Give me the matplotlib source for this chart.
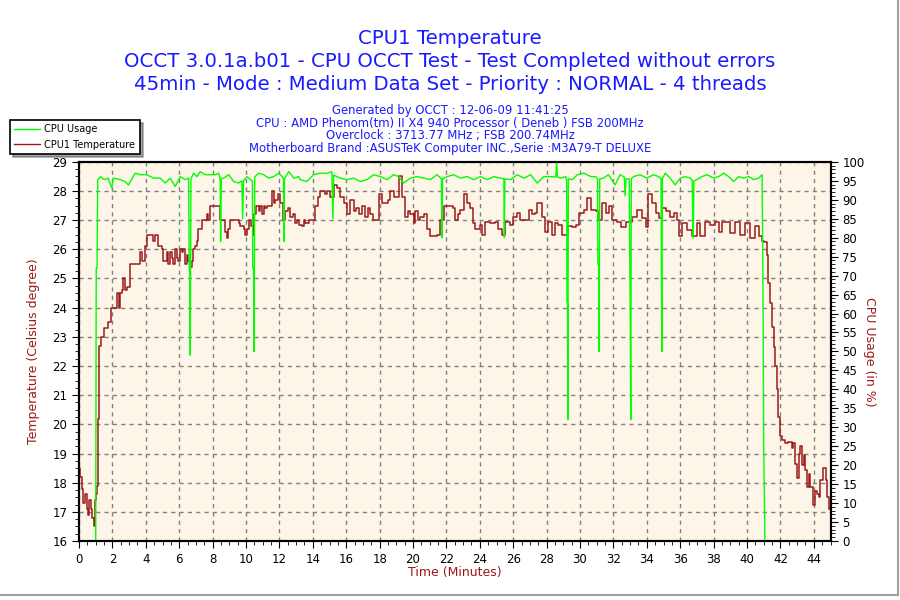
import matplotlib.pyplot as plt
from matplotlib.lines import Line2D
from matplotlib.ticker import MultipleLocator

# CPU1 temperature (minutes, degrees C)
temp_time = [0.0, 0.08, 0.15, 0.25, 0.35, 0.45, 0.55, 0.6, 0.7, 0.8, 0.87, 0.93, 1.0, 1.07, 1.12, 1.17,
             1.3, 1.5, 1.75, 1.9, 2.2, 2.27, 2.4, 2.47, 2.6, 2.66, 2.75, 2.9, 3.06, 3.55, 3.65, 3.75,
             3.95, 4.05, 4.35, 4.45, 4.55, 4.75, 4.95, 5.05, 5.15, 5.25, 5.35, 5.45, 5.55, 5.65, 5.75,
             5.85, 5.95, 6.05, 6.15, 6.25, 6.35, 6.45, 6.55, 6.65, 6.75, 6.85, 6.95, 7.05, 7.15, 7.35,
             7.55, 7.65, 7.75, 7.85, 8.35, 8.45, 8.65, 8.75, 8.85, 8.95, 9.05, 9.45, 9.55, 9.65, 9.85,
             9.95, 10.05, 10.15, 10.3, 10.45, 10.5, 10.6, 10.75, 10.85, 10.95, 11.05, 11.15, 11.25,
             11.4, 11.55, 11.65, 11.75, 11.9, 12.05, 12.2, 12.35, 12.5, 12.65, 12.8, 12.95, 13.05,
             13.2, 13.34, 13.45, 13.54, 13.8, 14.04, 14.14, 14.3, 14.44, 14.7, 14.84, 15.04, 15.24,
             15.44, 15.64, 15.84, 16.04, 16.24, 16.44, 16.6, 16.74, 16.94, 17.14, 17.3, 17.44, 17.6,
             17.74, 17.94, 18.14, 18.34, 18.5, 18.64, 18.84, 19.0, 19.14, 19.34, 19.54, 19.7, 19.84,
             20.04, 20.14, 20.3, 20.44, 20.64, 20.84, 21.04, 21.3, 21.44, 21.64, 21.84, 22.24, 22.4,
             22.54, 22.7, 22.84, 23.04, 23.24, 23.44, 23.6, 23.74, 23.84, 24.03, 24.13, 24.3, 24.6,
             24.9, 25.1, 25.33, 25.53, 25.83, 26.0, 26.23, 26.4, 26.8, 26.92, 27.13, 27.33, 27.43,
             27.63, 27.73, 27.93, 28.1, 28.33, 28.5, 28.7, 28.9, 29.13, 29.3, 29.5, 29.73, 29.93,
             30.23, 30.43, 30.63, 30.93, 31.1, 31.33, 31.53, 31.73, 31.93, 32.23, 32.43, 32.73,
             33.13, 33.43, 33.73, 33.93, 34.1, 34.33, 34.53, 34.73, 34.93, 35.13, 35.4, 35.6, 35.8,
             35.9, 36.1, 36.4, 36.7, 37.0, 37.2, 37.5, 37.8, 38.1, 38.3, 38.5, 38.8, 39.0, 39.3,
             39.6, 39.9, 40.2, 40.5, 40.7, 40.9, 41.0, 41.1, 41.2, 41.28, 41.4, 41.5, 41.6, 41.7,
             41.8, 41.88, 42.0, 42.1, 42.3, 42.48, 42.7, 42.78, 42.9, 43.0, 43.1, 43.2, 43.3, 43.4,
             43.5, 43.6, 43.7, 43.8, 43.96, 44.1, 44.2, 44.3, 44.4, 44.56, 44.7, 44.8, 44.9, 45.0]
temp_value = [18.5, 18.2, 17.8, 17.3, 17.6, 17.1, 16.9, 17.4, 17.1, 16.8, 16.5, 17.4, 17.6, 17.9, 20.2, 22.7,
              23.0, 23.3, 23.5, 24.0, 24.0, 24.5, 24.0, 24.5, 24.6, 25.0, 24.6, 24.7, 25.5, 25.5, 25.9, 25.6,
              26.1, 26.5, 26.5, 26.3, 26.5, 26.1, 26.0, 25.6, 25.6, 25.9, 25.5, 25.9, 25.7, 25.5, 26.0,
              25.7, 25.6, 26.0, 25.9, 26.0, 25.5, 25.8, 25.6, 25.4, 25.6, 26.0, 26.1, 26.3, 26.7, 27.0,
              27.0, 27.2, 27.0, 27.5, 27.5, 27.0, 27.0, 26.6, 26.4, 26.7, 27.0, 27.0, 26.9, 26.8, 26.7,
              26.5, 26.7, 27.0, 26.8, 26.5, 27.2, 27.5, 27.3, 27.5, 27.2, 27.5, 27.4, 27.5,
              27.5, 28.0, 27.6, 27.7, 27.9, 27.6, 27.0, 27.3, 27.4, 27.1, 27.2, 26.9, 27.0,
              26.85, 26.8, 27.0, 26.9, 27.0, 27.0, 27.5, 27.8, 28.0, 27.9, 28.0, 27.8, 28.2,
              28.1, 27.8, 27.6, 27.2, 27.7, 27.3, 27.4, 27.2, 27.5, 27.1, 27.4, 27.2, 27.0,
              27.0, 27.9, 27.6, 27.6, 27.7, 28.0, 27.8, 27.8, 28.5, 27.8, 27.1, 27.3, 27.2,
              26.9, 27.3, 27.0, 27.1, 27.2, 26.7, 26.45, 26.45, 26.5, 27.0, 27.5, 27.5, 27.4,
              27.0, 27.2, 27.35, 27.9, 27.6, 27.4, 26.9, 26.7, 26.7, 26.85, 26.5, 26.95, 26.9,
              26.95, 26.7, 26.5, 26.95, 26.85, 27.1, 27.25, 27.0, 27.0, 27.35, 27.2, 27.25, 27.6,
              27.6, 27.1, 26.6, 26.95, 26.5, 26.9, 26.85, 26.5, 26.5, 26.8, 26.75, 26.85, 27.25,
              27.35, 27.75, 27.35, 27.3, 27.0, 27.6, 27.25, 27.5, 27.0, 26.95, 26.75, 26.95,
              27.1, 27.35, 27.07, 26.75, 27.9, 27.6, 27.25, 27.07, 27.4, 27.3, 27.1, 27.25, 27.0,
              26.45, 26.9, 26.65, 26.45, 26.9, 26.45, 26.95, 26.85, 26.95, 26.6, 26.95, 26.95, 26.55, 26.95,
              26.5, 26.9, 26.4, 26.8, 26.45, 26.3, 26.25, 26.25, 25.8, 24.85, 24.15, 23.35, 22.65, 22.0,
              21.2, 20.25, 19.6, 19.45, 19.35, 19.4, 19.2, 19.35, 18.65, 18.15, 19.0, 19.25, 18.6, 18.95,
              18.45, 17.85, 18.3, 17.85, 17.25, 17.7, 17.6, 17.5, 18.1, 18.5, 18.1, 17.5, 17.1, 16.95]

# CPU usage (minutes, %)
cpu_time = [0.0, 1.0, 1.03, 1.08, 1.12, 1.3, 1.5, 1.75, 1.96, 2.05, 2.46, 2.76, 2.96, 3.36, 3.66, 4.06,
            4.46, 4.86, 5.16, 5.46, 5.76, 6.06, 6.36, 6.56, 6.6, 6.63, 6.66, 6.7, 6.86, 7.06, 7.26,
            7.56, 7.86, 8.16, 8.36, 8.45, 8.48, 8.52, 8.66, 8.96, 9.26, 9.56, 9.75, 9.8, 9.85, 10.06,
            10.26, 10.38, 10.4, 10.45, 10.48, 10.52, 10.76, 11.06, 11.36, 11.66, 11.96, 12.16, 12.24,
            12.27, 12.3, 12.56, 12.86, 13.16, 13.24, 13.64, 14.04, 14.44, 14.84, 15.14, 15.2, 15.25,
            15.64, 16.04, 16.44, 16.84, 17.24, 17.64, 18.04, 18.44, 18.84, 19.14, 19.44, 19.84, 20.24,
            20.64, 21.04, 21.44, 21.7, 21.73, 21.77, 22.04, 22.44, 22.84, 23.24, 23.64, 24.04, 24.44,
            24.84, 25.24, 25.44, 25.47, 25.5, 25.84, 26.24, 26.64, 27.04, 27.44, 27.84, 28.24, 28.55,
            28.6, 28.65, 28.84, 29.14, 29.2, 29.22, 29.25, 29.27, 29.3, 29.54, 29.84, 30.24, 30.64,
            30.94, 31.05, 31.07, 31.12, 31.14, 31.18, 31.4, 31.7, 32.1, 32.4, 32.65, 32.7, 32.75,
            32.95, 32.97, 33.0, 33.02, 33.04, 33.07, 33.2, 33.6, 34.0, 34.4, 34.7, 34.85, 34.87, 34.9,
            34.93, 35.1, 35.4, 35.7, 36.0, 36.3, 36.6, 36.72, 36.75, 36.78, 36.82, 37.0, 37.3, 37.6,
            38.0, 38.3, 38.6, 38.9, 39.2, 39.5, 39.8, 40.1, 40.4, 40.7, 40.9, 40.95, 41.0, 41.07, 45.0]
cpu_value = [0, 0, 72, 72, 95.3, 96.1, 95.3, 95.7, 93.1, 95.7, 95.3, 94.8, 93.9, 97.0, 96.6, 96.6,
             95.7, 95.7, 94.4, 95.7, 93.5, 96.1, 95.3, 95.7, 72, 72, 49, 95.5, 97.0, 96.1, 97.4,
             96.6, 96.6, 96.6, 97.0, 95.5, 79, 95.5, 95.7, 96.6, 94.8, 94.4, 95, 85, 95, 96.1,
             95.3, 95, 72, 72, 50, 96, 97.0, 96.6, 95.7, 96.1, 97.0, 96.1, 95.5,
             79, 95.5, 97.4, 95.7, 96.1, 95.3, 94.8, 96.6, 97.0, 97.0, 97.4, 85, 96.5,
             95.7, 95.3, 95.7, 94.8, 95.3, 96.6, 96.1, 95.3, 96.6, 96.1, 94.4, 95.7, 96.1,
             95.7, 95.3, 96.6, 95.5, 80, 95.5, 96.1, 96.6, 95.7, 96.1, 95.3, 96.1, 95.3,
             96.1, 95.7, 95.5, 80, 95.5, 95.3, 96.6, 95.7, 96.6, 94.4, 96.1, 96.1, 96,
             100, 96, 95.7, 96.1, 95, 63, 63, 32, 95.5, 95.3, 96.6, 97.0, 96.1,
             96.1, 95.5, 73, 73, 50, 95.5, 95.7, 96.6, 93.9, 96.6, 96, 91, 95.5,
             95.5, 80, 64, 48, 32, 95.5, 96.1, 96.6, 95.7, 96.6, 96.1, 95.5, 73, 50,
             95.5, 97.0, 95.7, 93.9, 95.7, 96.1, 95.7, 95, 85, 80, 95, 95.3, 96.1, 96.6,
             95.7, 96.1, 97.0, 96.1, 94.8, 96.1, 95.7, 96.1, 95.3, 95.7, 96.6, 72, 25, 0, 0]

titles = ["CPU1 Temperature",
          "OCCT 3.0.1a.b01 - CPU OCCT Test - Test Completed without errors",
          "45min - Mode : Medium Data Set - Priority : NORMAL - 4 threads"]
info = ["Generated by OCCT : 12-06-09 11:41:25",
        "CPU : AMD Phenom(tm) II X4 940 Processor ( Deneb ) FSB 200MHz",
        "Overclock : 3713.77 MHz ; FSB 200.74MHz",
        "Motherboard Brand :ASUSTeK Computer INC.,Serie :M3A79-T DELUXE"]

red = '#9b1a1a'
green = '#00ff00'
blue = '#1a1aff'

fig = plt.figure(figsize=(9, 6), dpi=100)
ax = fig.add_axes([0.0878, 0.0983, 0.835, 0.632])
ax.set_facecolor('#fdf6e8')

ax.plot(temp_time, temp_value, color=red, lw=1.1, drawstyle='steps-post', label='CPU1 Temperature')
ax.set_xlim(0, 45)
ax.set_ylim(16, 29)
ax.xaxis.set_major_locator(MultipleLocator(2))
ax.xaxis.set_minor_locator(MultipleLocator(0.5))
ax.yaxis.set_major_locator(MultipleLocator(1))
ax.yaxis.set_minor_locator(MultipleLocator(0.25))
ax.grid(True, which='major', color='#808080', linestyle=(0, (3, 3)), lw=1)
ax.tick_params(which='major', length=5, labelsize=8.5, direction='out')
ax.tick_params(which='minor', length=3, direction='out')
ax.set_xlabel('Time (Minutes)', color=red, fontsize=9, labelpad=0)
ax.set_ylabel('Temperature (Celsius degree)', color=red, fontsize=9, labelpad=9)

ax2 = ax.twinx()
ax2.plot(cpu_time, cpu_value, color=green, lw=1.0, label='CPU Usage')
ax2.set_ylim(0, 100)
ax2.yaxis.set_major_locator(MultipleLocator(5))
ax2.yaxis.set_minor_locator(MultipleLocator(1))
ax2.tick_params(which='major', length=5, labelsize=8.5, direction='out')
ax2.tick_params(which='minor', length=3, direction='out')
ax2.set_ylabel('CPU Usage (in %)', color=red, fontsize=9, rotation=270, labelpad=8)

for a in (ax, ax2):
    for s in a.spines.values():
        s.set_linewidth(1.5)

# titles and run info
for i, t in enumerate(titles):
    fig.text(0.5, 0.936 - i * 0.0385, t, color=blue, fontsize=14.2, ha='center', va='center')
for i, t in enumerate(info):
    fig.text(0.5, 0.816 - i * 0.021, t, color=blue, fontsize=8.4, ha='center', va='center')

handles = [Line2D([], [], color=green, lw=1.0), Line2D([], [], color=red, lw=1.0)]
leg = fig.legend(handles, ['CPU Usage', 'CPU1 Temperature'], loc='upper left',
                 bbox_to_anchor=(0.011, 0.8), fontsize=7, frameon=True, fancybox=False,
                 shadow=True, edgecolor='black', borderpad=0.45, labelspacing=0.55,
                 handlelength=2.6, handletextpad=0.5, borderaxespad=0)
leg.get_frame().set_linewidth(1.2)

# thin grey frame at right/bottom of the image
fig.add_artist(Line2D([0.998, 0.998], [0.008, 1.0], color='#a0a0a0', lw=1.5))
fig.add_artist(Line2D([0.0, 0.998], [0.008, 0.008], color='#a0a0a0', lw=1.5))

plt.savefig('out.png')
